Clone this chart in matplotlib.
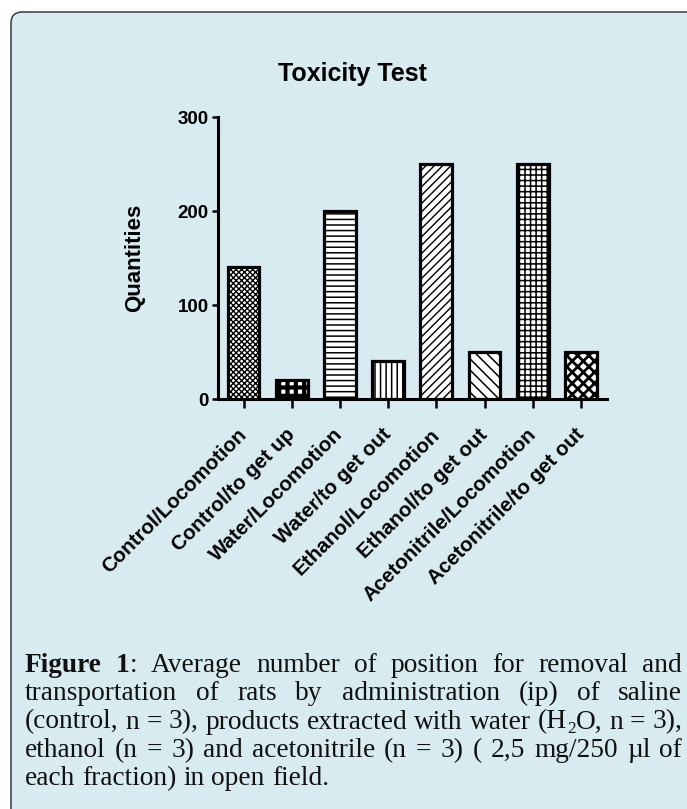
import matplotlib
matplotlib.use('Agg')
import matplotlib.pyplot as plt
from matplotlib.patches import FancyBboxPatch
from matplotlib.transforms import IdentityTransform

# ---------------- data ----------------
categories = ['Control/Locomotion', 'Control/to get up', 'Water/Locomotion', 'Water/to get out',
              'Ethanol/Locomotion', 'Ethanol/to get out', 'Acetonitrile/Locomotion',
              'Acetonitrile/to get out']
values = [140, 20, 200, 40, 250, 50, 250, 50]
hatches = ['xxxxxx', '++', '---', '|||', '////', '\\\\\\', '+++', 'xxx']
hatch_lws = [1.0, 3.0, 1.1, 1.1, 1.0, 1.1, 1.1, 2.0]
yticks = [0, 100, 200, 300]
title = 'Toxicity Test'
ylabel = 'Quantities'

caption_lines = [
    [[('Figure', 'bold', False)], [('1', 'bold', False), (':', 'normal', False)],
     'Average', 'number', 'of', 'position', 'for', 'removal', 'and'],
    'transportation of rats by administration (ip) of saline'.split(),
    '(control, n = 3), products extracted with water (H_2O, n = 3),'.split(),
    'ethanol (n = 3) and acetonitrile (n = 3) ( 2,5 mg/250 µl of'.split(),
    'each fraction) in open field.'.split(),
]
caption_justify = [True, True, True, True, False]

# ---------------- figure ----------------
W, H = 687, 809
fig = plt.figure(figsize=(W / 100, H / 100), dpi=100)
fig.patch.set_facecolor('white')
plt.rcParams['font.family'] = ['Liberation Sans', 'DejaVu Sans']
bg = '#d7ebf1'

box = FancyBboxPatch((11, -30), 720, H - 12 + 30,
                     boxstyle='round,pad=0,rounding_size=11',
                     transform=IdentityTransform(), facecolor=bg,
                     edgecolor='#2a2a2a', linewidth=1.0, zorder=-5)
fig.add_artist(box)

ax = fig.add_axes([218 / W, 1 - 399 / H, 389 / W, 282 / H])
ax.set_facecolor('none')

for i, (v, h, hl) in enumerate(zip(values, hatches, hatch_lws)):
    with plt.rc_context({'hatch.linewidth': hl}):
        bars = ax.bar(i, v, width=0.66, facecolor='white', edgecolor='black',
                      linewidth=2.3, hatch=h, zorder=3)
    for b in bars:
        if hasattr(b, 'set_hatch_linewidth'):
            b.set_hatch_linewidth(hl)

ax.set_xlim(-0.53, 7.54)
ax.set_ylim(0, 300)
for s in ['top', 'right']:
    ax.spines[s].set_visible(False)
for s in ['left', 'bottom']:
    ax.spines[s].set_linewidth(2.2)
ax.set_yticks(yticks)
ax.set_yticklabels([str(t) for t in yticks], fontsize=13.5, fontweight='bold')
ax.tick_params(axis='y', length=4.5, width=1.8, pad=2)
ax.set_xticks(range(len(categories)))
ax.set_xticklabels(categories, rotation=45, ha='right', va='center',
                   rotation_mode='anchor', fontsize=14.8, fontweight='bold')
ax.tick_params(axis='x', length=6.5, width=1.8, pad=17)

fig.text(352 / W, 1 - 81 / H, title, ha='center', va='baseline',
         fontsize=18, fontweight='bold')
fig.text(135 / W, 1 - 258 / H, ylabel, ha='center', va='center', rotation=90,
         fontsize=16, fontweight='bold')

# ---------------- caption (justified) ----------------
renderer = fig.canvas.get_renderer()
serif = ['Liberation Serif', 'DejaVu Serif']
SUB = 0.62


def to_runs(tok):
    if isinstance(tok, list):
        return tok
    if '_' in tok:
        a, rest = tok.split('_', 1)
        return [(a, 'normal', False), (rest[0], 'normal', True), (rest[1:], 'normal', False)]
    return [(tok, 'normal', False)]


def measure(s, fs, weight='normal'):
    t = fig.text(0, 0, s, fontsize=fs, fontweight=weight, family=serif,
                 transform=IdentityTransform())
    w = t.get_window_extent(renderer).width
    t.remove()
    return w


def token_width(tok, fs):
    w = 0
    for s, wt, sub in to_runs(tok):
        if s:
            w += measure(s, fs * (SUB if sub else 1.0), wt)
    return w


def space_width(fs):
    return measure('a a', fs) - measure('aa', fs)


ref_fs = 10.0
line3 = caption_lines[2]
nat = sum(token_width(t, ref_fs) for t in line3) + space_width(ref_fs) * (len(line3) - 1)
x_left, x_right = 25, 682
fs = ref_fs * (x_right - x_left - 2) / nat

baselines = [672, 700.3, 728.6, 757, 785.3]
for line, just, base in zip(caption_lines, caption_justify, baselines):
    widths = [token_width(t, fs) for t in line]
    if just and len(line) > 1:
        gap = (x_right - x_left - sum(widths)) / (len(line) - 1)
    else:
        gap = space_width(fs)
    x = x_left
    y = H - base
    for tok, w in zip(line, widths):
        xx = x
        for s, wt, sub in to_runs(tok):
            if not s:
                continue
            f = fs * (SUB if sub else 1.0)
            yy = y - (0.16 * fs * 100 / 72 if sub else 0)
            fig.text(xx, yy, s, fontsize=f, fontweight=wt, family=serif,
                     transform=IdentityTransform(), ha='left', va='baseline',
                     color='#111111')
            xx += measure(s, f, wt)
        x += w + gap

fig.savefig('out.png', dpi=100, facecolor=fig.get_facecolor())
